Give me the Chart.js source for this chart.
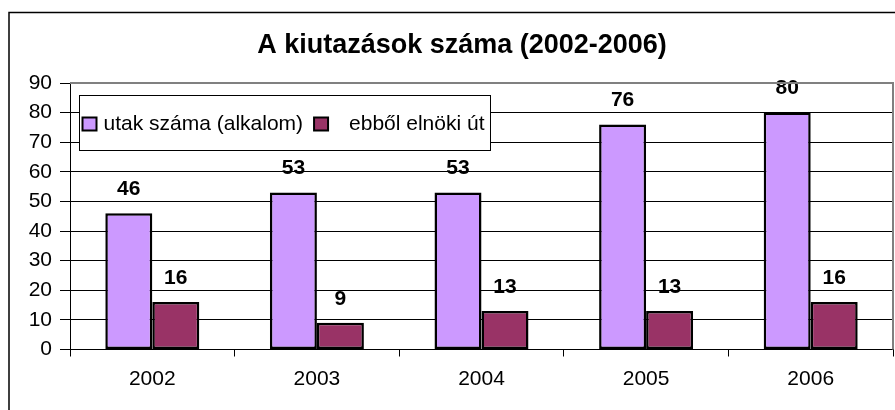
<!DOCTYPE html>
<html><head><meta charset="utf-8">
<script src="https://cdn.jsdelivr.net/npm/chart.js@4"></script>
<style>html,body{margin:0;padding:0;background:#fff}canvas{display:block}</style>
</head><body>
<canvas id="c" width="895" height="410" style="width:895px;height:410px"></canvas>
<script>
const chartTitle = 'A kiutazások száma (2002-2006)';
const categories = ['2002', '2003', '2004', '2005', '2006'];
const seriesNames = ['utak száma (alkalom)', 'ebből elnöki út'];
const tripsTotal = [46, 53, 53, 76, 80];
const tripsPresident = [16, 9, 13, 13, 16];
const yTickValues = [0, 10, 20, 30, 40, 50, 60, 70, 80, 90];
const seriesColors = ['#CC99FF', '#993366'];
const FONT = 'Arial, "Liberation Sans", sans-serif';

const decor = {
  id: 'decor',
  beforeDraw(chart) {
    const ctx = chart.ctx;
    ctx.save();
    ctx.fillStyle = '#fff';
    ctx.fillRect(0, 0, chart.width, chart.height);
    ctx.strokeStyle = '#000';
    ctx.lineWidth = 1.5;
    ctx.beginPath();
    ctx.moveTo(9, chart.height);
    ctx.lineTo(9, 12.5);
    ctx.lineTo(chart.width, 12.5);
    ctx.stroke();
    ctx.restore();
  },
  afterDatasetsDraw(chart) {
    const ctx = chart.ctx;
    ctx.save();
    ctx.font = 'bold 21px ' + FONT;
    ctx.fillStyle = '#000';
    ctx.textAlign = 'center';
    ctx.textBaseline = 'middle';
    chart.data.datasets.forEach((ds, i) => {
      const meta = chart.getDatasetMeta(i);
      meta.data.forEach((el, j) => {
        ctx.fillText(String(ds.data[j]), el.x, el.y - 24);
      });
    });
    ctx.restore();
  },
  afterDraw(chart) {
    const ctx = chart.ctx;
    const a = chart.chartArea;
    ctx.save();
    ctx.strokeStyle = '#808080';
    ctx.lineWidth = 2;
    ctx.beginPath();
    ctx.moveTo(a.left, a.top);
    ctx.lineTo(a.right, a.top);
    ctx.lineTo(a.right, a.bottom);
    ctx.stroke();
    ctx.fillStyle = '#000';
    ctx.font = 'bold 27px ' + FONT;
    ctx.textAlign = 'center';
    ctx.textBaseline = 'middle';
    ctx.fillText(chartTitle, 462, 46);
    ctx.font = '21px ' + FONT;
    ctx.textAlign = 'left';
    const bx = a.left + 9.5, by = 95.5, bh = 55;
    const ds = chart.data.datasets;
    const sq1 = bx + 3;
    const t1 = sq1 + 21;
    const w1 = ctx.measureText(ds[0].label).width;
    const sq2 = t1 + w1 + 11;
    const t2 = sq2 + 35;
    const w2 = ctx.measureText(ds[1].label).width;
    const bw = t2 + w2 + 6 - bx;
    ctx.fillStyle = '#fff';
    ctx.fillRect(bx, by, bw, bh);
    ctx.strokeStyle = '#000';
    ctx.lineWidth = 1;
    ctx.strokeRect(bx, by, bw, bh);
    const cy = by + 29;
    [[sq1, t1, 0], [sq2, t2, 1]].forEach(([sx, tx, i]) => {
      ctx.fillStyle = ds[i].backgroundColor;
      ctx.fillRect(sx, cy - 7, 14, 13);
      ctx.lineWidth = 2;
      ctx.strokeStyle = '#000';
      ctx.strokeRect(sx, cy - 7, 14, 13);
      ctx.fillStyle = '#000';
      ctx.fillText(ds[i].label, tx, cy);
    });
    ctx.restore();
  }
};

new Chart(document.getElementById('c'), {
  type: 'bar',
  data: {
    labels: categories,
    datasets: [
      { label: seriesNames[0], data: tripsTotal, backgroundColor: seriesColors[0], borderColor: '#000', borderWidth: 2.5, borderSkipped: false },
      { label: seriesNames[1], data: tripsPresident, backgroundColor: seriesColors[1], borderColor: '#000', borderWidth: 2.5, borderSkipped: false }
    ]
  },
  options: {
    responsive: false,
    animation: false,
    devicePixelRatio: 1,
    layout: { padding: { top: 83, right: 2, left: 0, bottom: 0 } },
    categoryPercentage: 0.571,
    barPercentage: 1.0,
    plugins: { legend: { display: false }, title: { display: false }, tooltip: { enabled: false } },
    scales: {
      x: {
        offset: true,
        grid: { display: true, drawOnChartArea: false, drawTicks: true, tickLength: 7, color: '#000', offset: true },
        border: { display: true, color: '#000', width: 1 },
        ticks: { color: '#000', font: { family: FONT, size: 21 }, padding: 10, maxRotation: 0 },
        afterFit(s) { s.height = 60.5; }
      },
      y: {
        min: 0, max: 90,
        afterBuildTicks(s) { s.ticks = yTickValues.map(v => ({ value: v })); },
        grid: {
          color: (c) => (c.tick && c.tick.value === 90 ? '#808080' : '#000'),
          tickColor: '#000', tickLength: 10, drawTicks: true
        },
        border: { display: true, color: '#000', width: 1 },
        ticks: { color: '#000', font: { family: FONT, size: 21 }, padding: 8 },
        afterFit(s) { s.width = 70; }
      }
    }
  },
  plugins: [decor]
});
</script>
</body></html>
